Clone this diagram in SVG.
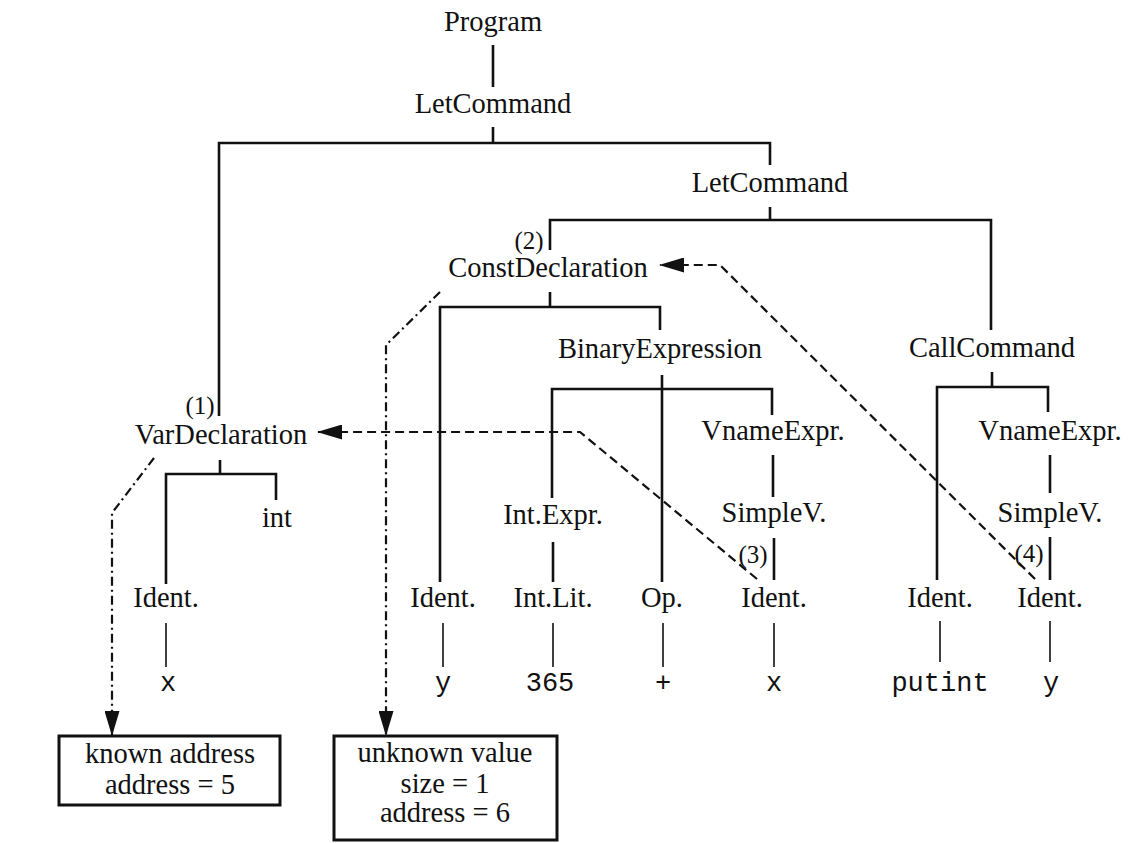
<svg xmlns="http://www.w3.org/2000/svg" width="1129" height="843" viewBox="0 0 1129 843">
  <style>
    .n { font-family: "Liberation Serif", "Times New Roman", serif; font-size: 28.5px; fill: #111; text-anchor: middle; }
    .s { font-family: "Liberation Serif", "Times New Roman", serif; font-size: 25px; fill: #111; text-anchor: middle; }
    .t { font-family: "Liberation Mono", "Courier New", monospace; font-size: 27px; fill: #111; text-anchor: middle; }
    .e { fill: none; stroke: #111; stroke-width: 2.6; }
    .l { fill: none; stroke: #111; stroke-width: 1.6; }
    .d { fill: none; stroke: #111; stroke-width: 2.2; stroke-dasharray: 9 5; }
    .dd { fill: none; stroke: #111; stroke-width: 2.2; stroke-dasharray: 9 4 2 4; }
    .box { fill: #fff; stroke: #111; stroke-width: 3; }
  </style>
  <defs>
    <marker id="ah" markerUnits="userSpaceOnUse" markerWidth="25" markerHeight="15" refX="24" refY="7.5" orient="auto">
      <path d="M0,0 L25,7.5 L0,15 z" fill="#111"/>
    </marker>
  </defs>
  <rect width="1129" height="843" fill="#fff"/>

  <g id="connectors">
    <!-- tree edges -->
    <path class="e" d="M493,45 V87"/>
    <path class="e" d="M493,127 V143 M219,416 V143 H770 V165"/>
    <path class="e" d="M770,207 V220 M550,250 V220 H991 V330"/>
    <path class="e" d="M550,292 V307 M440,582 V307 H660 V330"/>
    <path class="e" d="M662,375 V582 M552,498 V389 H772 V415"/>
    <path class="e" d="M773,455 V497 M774,538 V580"/>
    <path class="e" d="M553,542 V582"/>
    <path class="e" d="M992,372 V387 M937,580 V387 H1048 V412"/>
    <path class="e" d="M1050,455 V493 M1050,537 V580"/>
    <path class="e" d="M220,460 V474 M166,584 V474 H276 V500"/>
    <!-- leaf lines -->
    <path class="l" d="M166,623 V667 M443,623 V667 M553,623 V667 M663,623 V667 M774,623 V667 M940,621 V662 M1050,621 V662"/>
    <!-- dashed binding arrows -->
    <path class="d" d="M757,579 L580,432 H318" marker-end="url(#ah)"/>
    <path class="d" d="M1035,579 L720,265 H660" marker-end="url(#ah)"/>
    <!-- dash-dot arrows to boxes -->
    <path class="dd" d="M154,458 L112,513 V735" marker-end="url(#ah)"/>
    <path class="dd" d="M440,292 L386,345 V735" marker-end="url(#ah)"/>
  </g>

  <g id="program"><text class="n" x="493" y="31">Program</text></g>
  <g id="letcommand1"><text class="n" x="493" y="113">LetCommand</text></g>
  <g id="letcommand2"><text class="n" x="770" y="192">LetCommand</text></g>
  <g id="constdeclaration">
    <text class="s" x="529" y="249">(2)</text>
    <text class="n" x="548" y="277">ConstDeclaration</text>
  </g>
  <g id="binaryexpression"><text class="n" x="660" y="358">BinaryExpression</text></g>
  <g id="callcommand"><text class="n" x="992" y="357">CallCommand</text></g>
  <g id="vardeclaration">
    <text class="s" x="200" y="414">(1)</text>
    <text class="n" x="221" y="444">VarDeclaration</text>
  </g>
  <g id="vnameexpr1"><text class="n" x="773" y="440">VnameExpr.</text></g>
  <g id="vnameexpr2"><text class="n" x="1050" y="440">VnameExpr.</text></g>
  <g id="int-type"><text class="n" x="277" y="527">int</text></g>
  <g id="intexpr"><text class="n" x="553" y="524">Int.Expr.</text></g>
  <g id="simplev1"><text class="n" x="774" y="522">SimpleV.</text></g>
  <g id="simplev2"><text class="n" x="1050" y="522">SimpleV.</text></g>
  <g id="ident-x-decl"><text class="n" x="166" y="607">Ident.</text></g>
  <g id="ident-y-decl"><text class="n" x="443" y="607">Ident.</text></g>
  <g id="intlit"><text class="n" x="553" y="607">Int.Lit.</text></g>
  <g id="op"><text class="n" x="662" y="607">Op.</text></g>
  <g id="ident-x-use">
    <text class="s" x="753" y="563">(3)</text>
    <text class="n" x="774" y="607">Ident.</text>
  </g>
  <g id="ident-putint"><text class="n" x="940" y="607">Ident.</text></g>
  <g id="ident-y-use">
    <text class="s" x="1029" y="562">(4)</text>
    <text class="n" x="1050" y="607">Ident.</text>
  </g>
  <g id="terminals">
    <text class="t" x="168" y="691">x</text>
    <text class="t" x="443" y="691">y</text>
    <text class="t" x="550" y="691">365</text>
    <text class="t" x="663" y="691">+</text>
    <text class="t" x="774" y="691">x</text>
    <text class="t" x="940" y="691">putint</text>
    <text class="t" x="1051" y="691">y</text>
  </g>
  <g id="box-known">
    <rect class="box" x="59" y="736" width="221" height="69"/>
    <text class="n" x="170" y="763">known address</text>
    <text class="n" x="170" y="794">address = 5</text>
  </g>
  <g id="box-unknown">
    <rect class="box" x="334" y="736" width="223" height="104"/>
    <text class="n" x="445" y="762">unknown value</text>
    <text class="n" x="445" y="793">size = 1</text>
    <text class="n" x="445" y="822">address = 6</text>
  </g>
</svg>
